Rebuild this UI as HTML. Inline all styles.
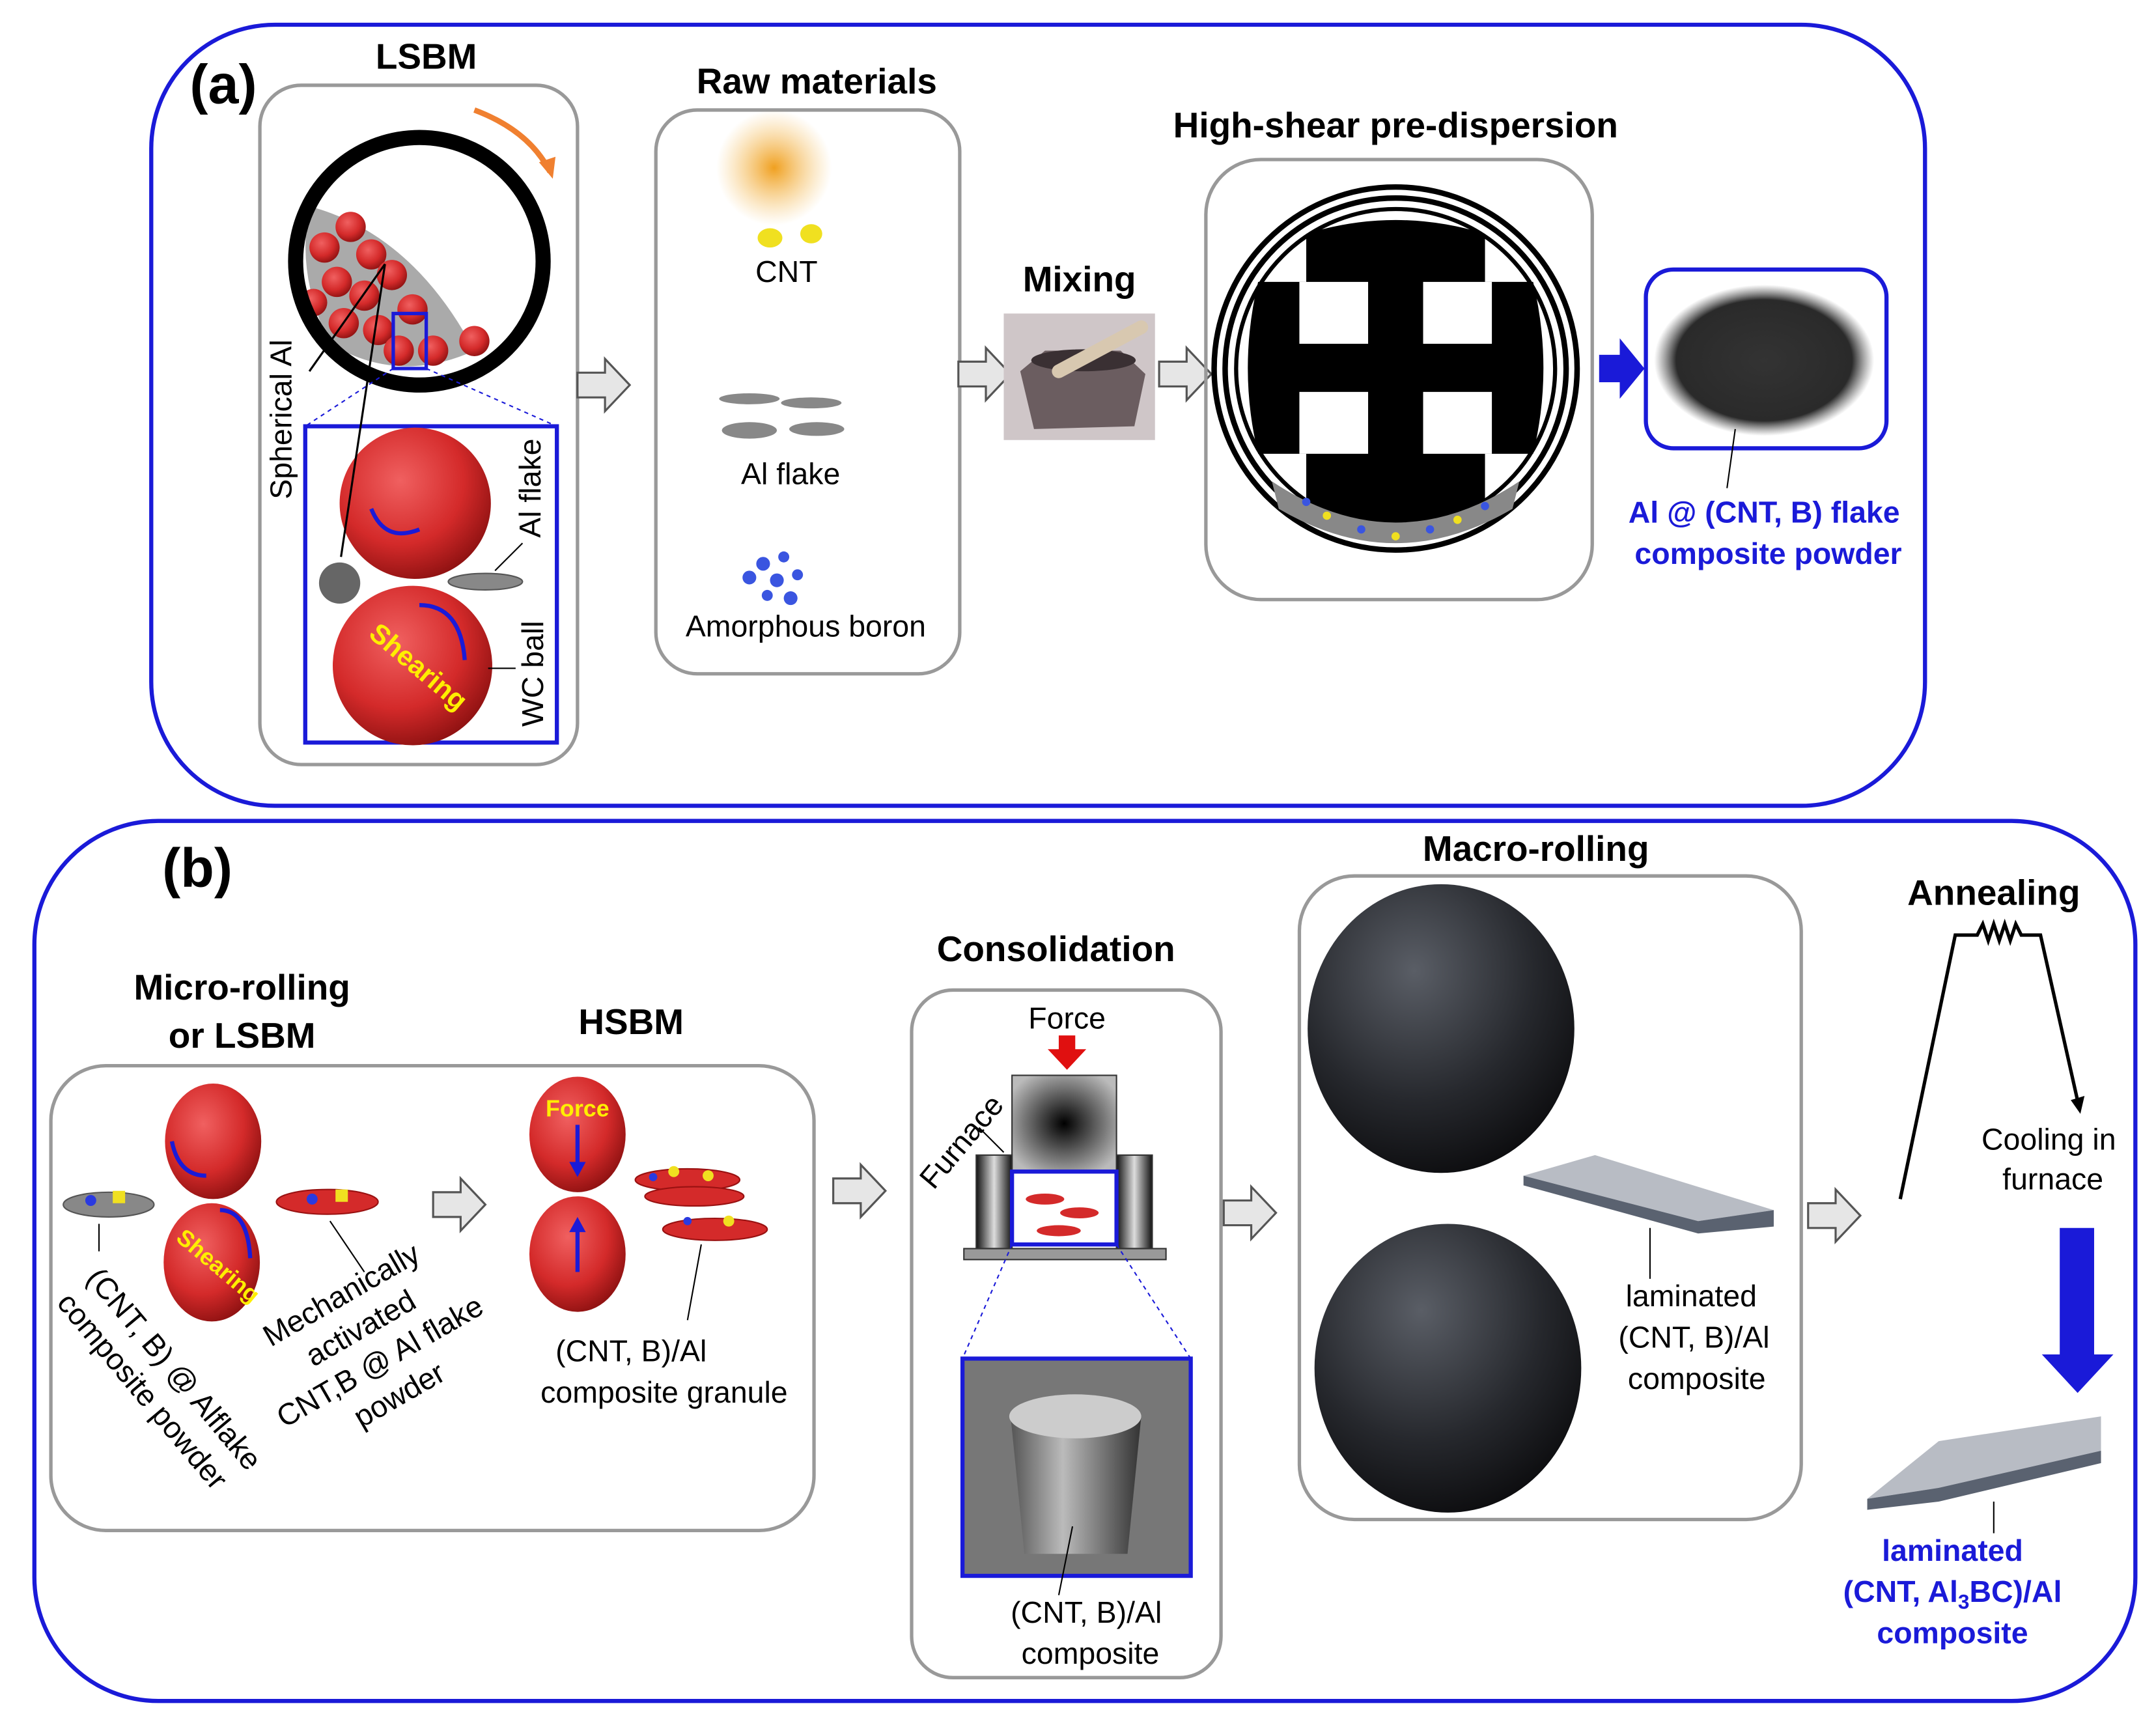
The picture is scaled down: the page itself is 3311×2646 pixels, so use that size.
<!DOCTYPE html>
<html><head><meta charset="utf-8"><style>
html,body{margin:0;padding:0;background:#fff}
svg{display:block}
text{font-family:"Liberation Sans",sans-serif}
</style></head><body>
<svg xmlns="http://www.w3.org/2000/svg" width="3311" height="2646" viewBox="0 0 1568 1253" preserveAspectRatio="none">
<defs>
<radialGradient id="red" cx="0.4" cy="0.35" r="0.7"><stop offset="0" stop-color="#f06060"/><stop offset="0.6" stop-color="#d42a2a"/><stop offset="1" stop-color="#8a1010"/></radialGradient>
<radialGradient id="dark" cx="0.4" cy="0.3" r="0.75"><stop offset="0" stop-color="#5a5e66"/><stop offset="0.6" stop-color="#26282d"/><stop offset="1" stop-color="#0b0b0d"/></radialGradient>
<radialGradient id="yel" cx="0.5" cy="0.5" r="0.5"><stop offset="0" stop-color="#f0a020"/><stop offset="1" stop-color="#f5c060" stop-opacity="0"/></radialGradient>
<radialGradient id="powder" cx="0.5" cy="0.5" r="0.5"><stop offset="0" stop-color="#333"/><stop offset="0.8" stop-color="#2a2a2a"/><stop offset="1" stop-color="#555" stop-opacity="0"/></radialGradient>
<linearGradient id="die" x1="0" x2="1"><stop offset="0" stop-color="#111"/><stop offset="0.5" stop-color="#ddd"/><stop offset="1" stop-color="#111"/></linearGradient>
<radialGradient id="punch" cx="0.5" cy="0.5" r="0.6"><stop offset="0" stop-color="#000"/><stop offset="1" stop-color="#bbb"/></radialGradient>
<linearGradient id="cyl" x1="0" x2="1"><stop offset="0" stop-color="#555"/><stop offset="0.4" stop-color="#bbb"/><stop offset="1" stop-color="#333"/></linearGradient>
<g id="harrow"><path d="M0,-9 L20,-9 L20,-19 L38,0 L20,19 L20,9 L0,9 Z" fill="#e6e6e6" stroke="#555" stroke-width="1.5"/></g>
</defs>

<rect x="110" y="18" width="1290" height="568" rx="90" fill="none" stroke="#1a1ad8" stroke-width="3"/>
<text x="138" y="75" font-size="40" font-weight="bold">(a)</text>

<text x="310" y="50" font-size="26" font-weight="bold" text-anchor="middle">LSBM</text>
<rect x="189" y="62" width="231" height="494" rx="30" fill="none" stroke="#999" stroke-width="2.5"/>
<path d="M225,150 Q300,170 345,255 Q290,280 240,250 Q215,200 225,150Z" fill="#aaa"/>
<g fill="url(#red)">
<circle cx="236" cy="180" r="11"/><circle cx="255" cy="165" r="11"/><circle cx="270" cy="185" r="11"/><circle cx="245" cy="205" r="11"/><circle cx="265" cy="215" r="11"/><circle cx="285" cy="200" r="11"/><circle cx="250" cy="235" r="11"/><circle cx="275" cy="240" r="11"/><circle cx="300" cy="225" r="11"/><circle cx="290" cy="255" r="11"/><circle cx="315" cy="255" r="11"/><circle cx="345" cy="248" r="11"/><circle cx="228" cy="220" r="10"/>
</g>
<circle cx="305" cy="190" r="90" fill="none" stroke="#000" stroke-width="11"/>
<path d="M345,80 Q385,95 400,125" fill="none" stroke="#f08030" stroke-width="4"/><path d="M392,118 L402,130 L404,114Z" fill="#f08030"/>
<rect x="286" y="228" width="24" height="40" fill="none" stroke="#1a1ad8" stroke-width="2.5"/>
<line x1="286" y1="268" x2="222" y2="310" stroke="#1a1ad8" stroke-dasharray="3,3"/>
<line x1="310" y1="268" x2="405" y2="310" stroke="#1a1ad8" stroke-dasharray="3,3"/>
<rect x="222" y="310" width="183" height="230" fill="#fff" stroke="#1a1ad8" stroke-width="3"/>
<circle cx="302" cy="366" r="55" fill="url(#red)"/>
<circle cx="300" cy="484" r="58" fill="url(#red)"/>
<circle cx="247" cy="424" r="15" fill="#666"/>
<ellipse cx="353" cy="423" rx="27" ry="6" fill="#888" stroke="#555"/>
<path d="M270,370 Q280,395 305,385" fill="none" stroke="#1a1ad8" stroke-width="3"/>
<path d="M305,440 Q335,440 338,480" fill="none" stroke="#1a1ad8" stroke-width="3"/>
<text x="300" y="490" font-size="20" font-weight="bold" fill="#ffee00" font-family="Liberation Serif" transform="rotate(40 300 490)" text-anchor="middle">Shearing</text>
<line x1="280" y1="192" x2="248" y2="405" stroke="#000" stroke-width="1.5"/>
<line x1="280" y1="192" x2="225" y2="270" stroke="#000" stroke-width="1.5"/>
<text x="212" y="305" font-size="22" transform="rotate(-90 212 305)" text-anchor="middle">Spherical Al</text>
<text x="393" y="355" font-size="22" transform="rotate(-90 393 355)" text-anchor="middle">Al flake</text>
<line x1="360" y1="415" x2="380" y2="395" stroke="#000"/>
<text x="395" y="490" font-size="22" transform="rotate(-90 395 490)" text-anchor="middle">WC ball</text>
<line x1="355" y1="486" x2="375" y2="486" stroke="#000"/>

<use href="#harrow" x="420" y="280"/>

<text x="594" y="68" font-size="26" font-weight="bold" text-anchor="middle">Raw materials</text>
<rect x="477" y="80" width="221" height="410" rx="30" fill="none" stroke="#999" stroke-width="2.5"/>
<circle cx="563" cy="122" r="42" fill="url(#yel)"/>
<ellipse cx="560" cy="173" rx="9" ry="7" fill="#f0e020"/><ellipse cx="590" cy="170" rx="8" ry="7" fill="#f0e020"/>
<text x="572" y="205" font-size="22" text-anchor="middle">CNT</text>
<ellipse cx="545" cy="290" rx="22" ry="4" fill="#888"/><ellipse cx="590" cy="293" rx="22" ry="4" fill="#888"/>
<ellipse cx="545" cy="313" rx="20" ry="6" fill="#888"/><ellipse cx="594" cy="312" rx="20" ry="5" fill="#888"/>
<text x="575" y="352" font-size="22" text-anchor="middle">Al flake</text>
<g fill="#3a55e0"><circle cx="555" cy="410" r="5"/><circle cx="570" cy="405" r="4"/><circle cx="545" cy="420" r="5"/><circle cx="565" cy="422" r="5"/><circle cx="580" cy="418" r="4"/><circle cx="558" cy="433" r="4"/><circle cx="575" cy="435" r="5"/></g>
<text x="586" y="463" font-size="22" text-anchor="middle">Amorphous boron</text>

<use href="#harrow" x="697" y="272"/>
<text x="785" y="212" font-size="26" font-weight="bold" text-anchor="middle">Mixing</text>
<rect x="730" y="228" width="110" height="92" fill="#cfc6c8"/>
<path d="M742,270 L760,255 L815,255 L833,272 L825,310 L752,312Z" fill="#6b5d60"/>
<ellipse cx="788" cy="262" rx="38" ry="8" fill="#3a3033"/>
<path d="M770,270 L830,238" stroke="#d8c8b0" stroke-width="10" stroke-linecap="round"/>
<use href="#harrow" x="843" y="272"/>

<text x="1015" y="100" font-size="26" font-weight="bold" text-anchor="middle">High-shear pre-dispersion</text>
<rect x="877" y="116" width="281" height="320" rx="40" fill="none" stroke="#999" stroke-width="2.5"/>
<circle cx="1015" cy="268" r="132" fill="none" stroke="#000" stroke-width="4"/>
<circle cx="1015" cy="268" r="124" fill="none" stroke="#000" stroke-width="4"/>
<circle cx="1015" cy="268" r="116" fill="none" stroke="#000" stroke-width="3"/>
<path d="M950,170 Q1015,150 1080,170 L1080,205 L1115,205 Q1130,268 1115,330 L1080,330 L1080,370 Q1015,395 950,370 L950,330 L915,330 Q900,268 915,205 L950,205Z" fill="#000"/>
<rect x="945" y="205" width="50" height="45" fill="#fff"/><rect x="1035" y="205" width="50" height="45" fill="#fff"/>
<rect x="945" y="285" width="50" height="45" fill="#fff"/><rect x="1035" y="285" width="50" height="45" fill="#fff"/>
<path d="M925,350 Q1015,410 1105,350 L1100,370 Q1015,420 930,370Z" fill="#888"/>
<g fill="#3a55e0"><circle cx="950" cy="365" r="3"/><circle cx="990" cy="385" r="3"/><circle cx="1040" cy="385" r="3"/><circle cx="1080" cy="368" r="3"/></g>
<g fill="#f0e020"><circle cx="965" cy="375" r="3"/><circle cx="1015" cy="390" r="3"/><circle cx="1060" cy="378" r="3"/></g>
<path d="M1163,258 L1178,258 L1178,246 L1196,268 L1178,290 L1178,278 L1163,278Z" fill="#1a1ad8"/>
<rect x="1197" y="196" width="175" height="130" rx="20" fill="#fff" stroke="#1a1ad8" stroke-width="3"/>
<ellipse cx="1283" cy="262" rx="80" ry="55" fill="url(#powder)"/>
<line x1="1262" y1="312" x2="1256" y2="355" stroke="#000"/>
<text x="1283" y="380" font-size="22" font-weight="bold" fill="#1a1ad8" text-anchor="middle">Al @ (CNT, B) flake</text>
<text x="1286" y="410" font-size="22" font-weight="bold" fill="#1a1ad8" text-anchor="middle">composite powder</text>

<rect x="25" y="597" width="1528" height="640" rx="90" fill="none" stroke="#1a1ad8" stroke-width="3"/>
<text x="118" y="645" font-size="40" font-weight="bold">(b)</text>

<text x="176" y="727" font-size="26" font-weight="bold" text-anchor="middle">Micro-rolling</text>
<text x="176" y="762" font-size="26" font-weight="bold" text-anchor="middle">or LSBM</text>
<text x="459" y="752" font-size="26" font-weight="bold" text-anchor="middle">HSBM</text>
<rect x="37" y="775" width="555" height="338" rx="40" fill="none" stroke="#999" stroke-width="2.5"/>
<ellipse cx="155" cy="830" rx="35" ry="42" fill="url(#red)"/>
<ellipse cx="154" cy="918" rx="35" ry="43" fill="url(#red)"/>
<path d="M125,830 Q130,855 150,855" fill="none" stroke="#1a1ad8" stroke-width="3"/>
<path d="M160,880 Q180,880 182,915" fill="none" stroke="#1a1ad8" stroke-width="3"/>
<text x="155" y="925" font-size="17" font-weight="bold" fill="#ffee00" font-family="Liberation Serif" transform="rotate(40 155 925)" text-anchor="middle">Shearing</text>
<ellipse cx="79" cy="876" rx="33" ry="9" fill="#888" stroke="#555"/>
<circle cx="66" cy="873" r="4" fill="#2a3ae0"/><rect x="82" y="866" width="9" height="9" fill="#f0e020"/>
<ellipse cx="238" cy="874" rx="37" ry="9" fill="#d42a2a" stroke="#911"/>
<circle cx="227" cy="872" r="4" fill="#2a3ae0"/><rect x="244" y="865" width="9" height="9" fill="#f0e020"/>
<line x1="72" y1="890" x2="72" y2="910" stroke="#000"/>
<line x1="240" y1="888" x2="265" y2="925" stroke="#000"/>
<text font-size="22" transform="translate(62 930) rotate(50)"><tspan x="0" y="0">(CNT, B) @ Alflake</tspan><tspan x="0" y="28">composite powder</tspan></text>
<text font-size="22" transform="translate(252 948) rotate(-30)" text-anchor="middle"><tspan x="0" y="0">Mechanically</tspan><tspan x="0" y="28">activated</tspan><tspan x="0" y="56">CNT,B @ Al flake</tspan><tspan x="0" y="84">powder</tspan></text>
<use href="#harrow" x="315" y="876"/>
<ellipse cx="420" cy="825" rx="35" ry="42" fill="url(#red)"/>
<ellipse cx="420" cy="912" rx="35" ry="42" fill="url(#red)"/>
<text x="420" y="812" font-size="17" font-weight="bold" fill="#ffee00" font-family="Liberation Serif" text-anchor="middle">Force</text>
<path d="M420,818 L420,852" stroke="#1a1ad8" stroke-width="3"/><path d="M414,845 L420,856 L426,845Z" fill="#1a1ad8"/>
<path d="M420,925 L420,890" stroke="#1a1ad8" stroke-width="3"/><path d="M414,896 L420,885 L426,896Z" fill="#1a1ad8"/>
<ellipse cx="500" cy="858" rx="38" ry="8" fill="#d42a2a" stroke="#911"/>
<ellipse cx="505" cy="870" rx="36" ry="7" fill="#d42a2a" stroke="#911"/>
<ellipse cx="520" cy="894" rx="38" ry="8" fill="#d42a2a" stroke="#911"/>
<g fill="#f0e020"><circle cx="490" cy="852" r="4"/><circle cx="515" cy="855" r="4"/><circle cx="530" cy="888" r="4"/></g>
<g fill="#2a3ae0"><circle cx="475" cy="856" r="3"/><circle cx="500" cy="888" r="3"/></g>
<line x1="510" y1="905" x2="500" y2="960" stroke="#000"/>
<text x="459" y="990" font-size="22" text-anchor="middle">(CNT, B)/Al</text>
<text x="483" y="1020" font-size="22" text-anchor="middle">composite granule</text>

<use href="#harrow" x="606" y="866"/>
<text x="768" y="699" font-size="26" font-weight="bold" text-anchor="middle">Consolidation</text>
<rect x="663" y="720" width="225" height="500" rx="30" fill="none" stroke="#999" stroke-width="2.5"/>
<text x="776" y="748" font-size="22" text-anchor="middle">Force</text>
<path d="M770,753 L782,753 L782,763 L790,763 L776,778 L762,763 L770,763Z" fill="#e01010"/>
<text x="705" y="835" font-size="22" transform="rotate(-50 705 835)" text-anchor="middle">Furnace</text>
<line x1="712" y1="820" x2="730" y2="838" stroke="#000"/>
<rect x="736" y="782" width="76" height="70" fill="url(#punch)" stroke="#333"/>
<rect x="710" y="840" width="26" height="68" fill="url(#die)" stroke="#333"/>
<rect x="812" y="840" width="26" height="68" fill="url(#die)" stroke="#333"/>
<rect x="701" y="908" width="147" height="8" fill="#999" stroke="#333"/>
<rect x="736" y="852" width="76" height="53" fill="#fff" stroke="#1a1ad8" stroke-width="3"/>
<ellipse cx="760" cy="872" rx="14" ry="4" fill="#d42a2a"/><ellipse cx="785" cy="882" rx="14" ry="4" fill="#d42a2a"/><ellipse cx="770" cy="895" rx="16" ry="4" fill="#d42a2a"/>
<line x1="736" y1="905" x2="700" y2="988" stroke="#1a1ad8" stroke-dasharray="3,3"/>
<line x1="812" y1="905" x2="866" y2="988" stroke="#1a1ad8" stroke-dasharray="3,3"/>
<rect x="700" y="988" width="166" height="158" fill="#777" stroke="#1a1ad8" stroke-width="3"/>
<path d="M735,1030 L830,1030 L820,1130 L745,1130Z" fill="url(#cyl)"/>
<ellipse cx="782" cy="1030" rx="48" ry="16" fill="#ccc"/>
<line x1="780" y1="1110" x2="770" y2="1160" stroke="#000"/>
<text x="790" y="1180" font-size="22" text-anchor="middle">(CNT, B)/Al</text>
<text x="793" y="1210" font-size="22" text-anchor="middle">composite</text>

<use href="#harrow" x="890" y="882"/>
<text x="1117" y="626" font-size="26" font-weight="bold" text-anchor="middle">Macro-rolling</text>
<rect x="945" y="637" width="365" height="468" rx="40" fill="none" stroke="#999" stroke-width="2.5"/>
<ellipse cx="1048" cy="748" rx="97" ry="105" fill="url(#dark)"/>
<ellipse cx="1053" cy="995" rx="97" ry="105" fill="url(#dark)"/>
<path d="M1108,855 L1160,840 L1290,880 L1235,888Z" fill="#b8bcc4"/>
<path d="M1108,855 L1235,888 L1290,880 L1290,892 L1235,897 L1108,862Z" fill="#5a6270"/>
<line x1="1200" y1="893" x2="1200" y2="930" stroke="#000"/>
<text x="1230" y="950" font-size="22" text-anchor="middle">laminated</text>
<text x="1232" y="980" font-size="22" text-anchor="middle">(CNT, B)/Al</text>
<text x="1234" y="1010" font-size="22" text-anchor="middle">composite</text>

<use href="#harrow" x="1315" y="884"/>
<text x="1450" y="658" font-size="26" font-weight="bold" text-anchor="middle">Annealing</text>
<path d="M1382,872 L1422,680 L1438,680 L1442,672 L1446,684 L1450,672 L1454,684 L1458,672 L1462,684 L1466,672 L1470,680 L1484,680 L1512,805" fill="none" stroke="#000" stroke-width="2.5"/>
<path d="M1506,800 L1513,810 L1516,797Z" fill="#000"/>
<text x="1490" y="836" font-size="22" text-anchor="middle">Cooling in</text>
<text x="1493" y="865" font-size="22" text-anchor="middle">furnace</text>
<path d="M1498,893 L1523,893 L1523,985 L1537,985 L1511,1013 L1485,985 L1498,985Z" fill="#1a1ad8"/>
<path d="M1358,1090 L1410,1048 L1528,1030 L1528,1055 L1410,1082Z" fill="#b8bcc4"/>
<path d="M1358,1090 L1410,1082 L1528,1055 L1528,1064 L1410,1092 L1358,1098Z" fill="#5a6270"/>
<line x1="1450" y1="1092" x2="1450" y2="1115" stroke="#000"/>
<text x="1420" y="1135" font-size="22" font-weight="bold" fill="#1a1ad8" text-anchor="middle">laminated</text>
<text x="1420" y="1165" font-size="22" font-weight="bold" fill="#1a1ad8" text-anchor="middle">(CNT, Al<tspan font-size="15" dy="5">3</tspan><tspan dy="-5">BC)/Al</tspan></text>
<text x="1420" y="1195" font-size="22" font-weight="bold" fill="#1a1ad8" text-anchor="middle">composite</text>
</svg>
</body></html>
